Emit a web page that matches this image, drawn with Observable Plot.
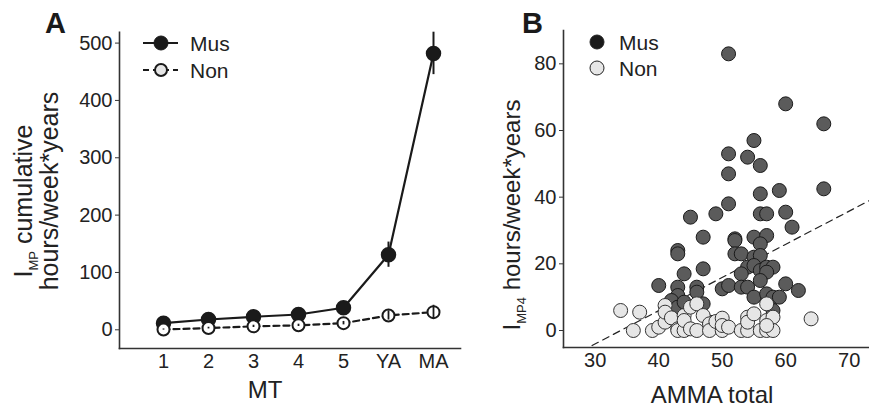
<!DOCTYPE html>
<html><head><meta charset="utf-8">
<script src="https://cdn.jsdelivr.net/npm/d3@7"></script>
<script src="https://cdn.jsdelivr.net/npm/@observablehq/plot@0.6"></script>
<style>
body{margin:0;background:#fff;}
#wrap{position:relative;width:869px;height:408px;font-family:"Liberation Sans",Arial,sans-serif;}
#wrap svg{position:absolute;top:0;overflow:visible;}
</style></head><body><div id="wrap"></div>
<script>
// ---- Panel A data ----
const stages = ["1","2","3","4","5","YA","MA"];
const musMean = [11.6, 18, 22.7, 26.7, 38.4, 131, 482];
const musErr  = [3, 4, 4, 5, 6, 22, 37];
const nonMean = [0.5, 3, 6, 7.8, 11.6, 25, 30.8];
const nonErr  = [1, 1.5, 2, 2, 3, 8, 12];
const yTicksA = [0, 100, 200, 300, 400, 500];
const groups = ["Mus", "Non"];

// ---- Panel B data ----
const musX = [51,60,66,55,51,54,56,51,66,59,56,51,45,49,56,57,60,61,47,55,57,52,52,56,43,43,52,53,55,56,44,47,54,55,56,57,58,57,53,40,43,46,46,43,50,51,53,54,56,60,62,42,55,57,58,59,43,44,47,58,48];
const musY = [83,68,62,57,53,52,49.5,47,42.5,42,41,38,34,35,35,35,35.5,31,28,28,28.5,27.5,27,26,24,23,23,23,22,22.5,17,18.5,19,19.5,18,19,19,17.5,17,13.5,13,13,11.5,10.5,12.5,13.5,13,13,15,14,12,9,10,11,10,10,7,8.5,8,6,2.5];
const nonX = [34,37,36,39,40,41,41,41,42,43,43,44,44,44,45,45,46,46,47,48,48,49,50,50,50,51,53,54,54,54,55,56,57,57,57,58,58,64,57];
const nonY = [6,5.5,0,0,1,2.5,7.5,5.5,3.8,0.5,0,0,4.5,3,0.5,7,0,8,4.5,2,0,2.7,0,3.7,1.5,1,0,0,4,2.5,5,0,0,8,3,4,0,3.5,1.5];
const fitX = [29.5, 73.2];
const fitY = [-4.5, 39];
const xTicksB = [30, 40, 50, 60, 70];
const yTicksB = [0, 20, 40, 60, 80];

const FONT = '"Liberation Sans", Arial, sans-serif';
const INK = "#1a1a1a";

const musRows = stages.map((s, i) => ({stage: s, v: musMean[i], e: musErr[i]}));
const nonRows = stages.map((s, i) => ({stage: s, v: nonMean[i], e: nonErr[i]}));

const plotA = Plot.plot({
  width: 460, height: 408,
  marginLeft: 119, marginRight: 0, marginTop: 31.7, marginBottom: 60,
  style: {fontFamily: FONT, fontSize: "20px", color: "#222", background: "transparent", overflow: "visible"},
  x: {type: "point", domain: stages, range: [161, 435], padding: 0, label: null},
  y: {domain: [-32.6, 519], label: null},
  marks: [
    Plot.frame({anchor: "left", stroke: "#333", strokeWidth: 1.6}),
    Plot.frame({anchor: "bottom", stroke: "#333", strokeWidth: 1.6}),
    Plot.axisY({ticks: yTicksA, tickSize: 4, tickPadding: 3, label: null, stroke: "#333"}),
    Plot.axisX({tickSize: 0, tickPadding: 5, label: null}),
    Plot.line(musRows, {x: "stage", y: "v", stroke: INK, strokeWidth: 2.2}),
    Plot.line(nonRows, {x: "stage", y: "v", stroke: INK, strokeWidth: 2.2, strokeDasharray: "6,4"}),
    Plot.ruleX(musRows, {x: "stage", y1: d => d.v - d.e, y2: d => d.v + d.e, stroke: INK, strokeWidth: 2}),
    Plot.dot(musRows, {x: "stage", y: "v", r: 7, fill: INK, stroke: INK}),
    Plot.dot(nonRows, {x: "stage", y: "v", r: 6, fill: "white", stroke: INK, strokeWidth: 2}),
    Plot.ruleX(nonRows, {x: "stage", y1: d => d.v - d.e, y2: d => d.v + d.e, stroke: INK, strokeWidth: 1.8})
  ]
});

const musPts = musX.map((x, i) => ({x, y: musY[i]}));
const nonPts = nonX.map((x, i) => ({x, y: nonY[i]}));
const fitPts = fitX.map((x, i) => ({x, y: fitY[i]}));

const plotB = Plot.plot({
  width: 409, height: 408,
  marginLeft: 103, marginRight: 0, marginTop: 30, marginBottom: 61,
  style: {fontFamily: FONT, fontSize: "20px", color: "#222", background: "transparent", overflow: "visible"},
  x: {domain: [25, 73.2], label: null},
  y: {domain: [-5.1, 90], label: null},
  marks: [
    Plot.frame({anchor: "left", stroke: "#333", strokeWidth: 1.6}),
    Plot.frame({anchor: "bottom", stroke: "#333", strokeWidth: 1.6}),
    Plot.axisY({ticks: yTicksB, tickSize: 4, tickPadding: 3, label: null, stroke: "#333"}),
    Plot.axisX({ticks: xTicksB, tickSize: 0, tickPadding: 5, label: null}),
    Plot.line(fitPts, {x: "x", y: "y", stroke: "#222", strokeWidth: 1.2, strokeDasharray: "7,5", clip: true}),
    Plot.dot(musPts, {x: "x", y: "y", r: 7, fill: "#5b5b5b", stroke: INK, strokeWidth: 1}),
    Plot.dot(nonPts, {x: "x", y: "y", r: 7, fill: "#e6e6e6", stroke: "#333", strokeWidth: 1})
  ]
});

const wrap = document.getElementById("wrap");
plotA.style.left = "0px";
plotB.style.left = "460px";
wrap.appendChild(plotA);
wrap.appendChild(plotB);

// ---- annotations panel A ----
const sA = d3.select(plotA);
sA.append("text").attr("x", 45).attr("y", 33).attr("font-size", 29).attr("font-weight", "bold")
  .attr("text-anchor", "start").attr("fill", INK).attr("font-family", FONT).text("A");
const yl1 = sA.append("text").attr("transform", "translate(32,201) rotate(-90)")
  .attr("text-anchor", "middle").attr("font-size", 25).attr("fill", "#222").attr("font-family", FONT);
yl1.append("tspan").text("I");
yl1.append("tspan").attr("font-size", 13).attr("dy", 6).text("MP");
yl1.append("tspan").attr("dy", -6).text(" cumulative");
sA.append("text").attr("transform", "translate(58,191) rotate(-90)")
  .attr("text-anchor", "middle").attr("font-size", 25).attr("fill", "#222").attr("font-family", FONT)
  .text("hours/week*years");
sA.append("text").attr("x", 265).attr("y", 398).attr("text-anchor", "middle").attr("font-size", 24)
  .attr("fill", "#222").attr("font-family", FONT).text("MT");
const legA = sA.append("g");
groups.forEach((g, i) => {
  const y = 43 + i * 27;
  legA.append("line").attr("x1", 143).attr("x2", 178).attr("y1", y).attr("y2", y)
    .attr("stroke", INK).attr("stroke-width", 2.2).attr("stroke-dasharray", i ? "6,4" : null);
  legA.append("circle").attr("cx", 161).attr("cy", y).attr("r", i ? 6 : 7)
    .attr("fill", i ? "#e6e6e6" : INK).attr("stroke", INK).attr("stroke-width", i ? 2 : 1);
  legA.append("text").attr("x", 190).attr("y", y).attr("dy", "0.36em").attr("font-size", 21)
    .attr("text-anchor", "start").attr("fill", "#222").attr("font-family", FONT).text(g);
});

// ---- annotations panel B ----
const sB = d3.select(plotB);
sB.append("text").attr("x", 62).attr("y", 33).attr("font-size", 29).attr("font-weight", "bold")
  .attr("text-anchor", "start").attr("fill", INK).attr("font-family", FONT).text("B");
const yl2 = sB.append("text").attr("transform", "translate(60,215) rotate(-90)")
  .attr("text-anchor", "middle").attr("font-size", 24).attr("fill", "#222").attr("font-family", FONT);
yl2.append("tspan").text("I");
yl2.append("tspan").attr("font-size", 13).attr("dy", 6).text("MP4");
yl2.append("tspan").attr("dy", -6).text(" hours/week*years");
sB.append("text").attr("x", 252).attr("y", 403).attr("text-anchor", "middle").attr("font-size", 24)
  .attr("fill", "#222").attr("font-family", FONT).text("AMMA total");
groups.forEach((g, i) => {
  const y = 42 + i * 26;
  sB.append("circle").attr("cx", 137).attr("cy", y).attr("r", 7)
    .attr("fill", i ? "#e6e6e6" : INK).attr("stroke", "#222").attr("stroke-width", 1);
  sB.append("text").attr("x", 159).attr("y", y).attr("dy", "0.36em").attr("font-size", 21)
    .attr("text-anchor", "start").attr("fill", "#222").attr("font-family", FONT).text(g);
});
</script></body></html>
